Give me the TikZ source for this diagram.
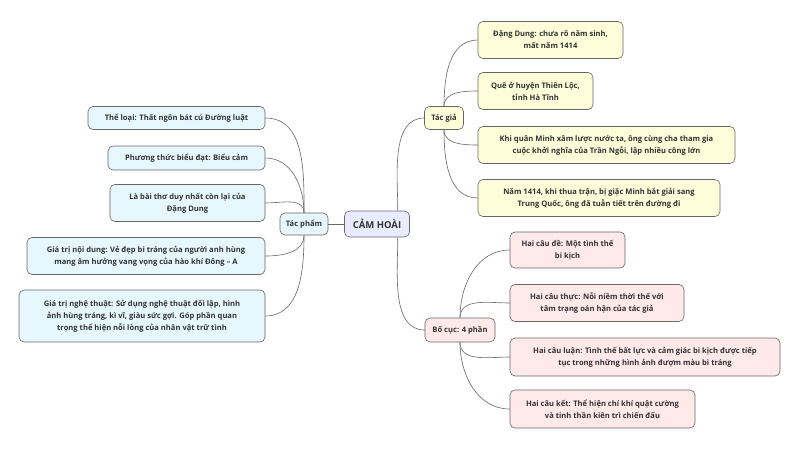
\documentclass[tikz,border=0pt]{standalone}
\usepackage{fontspec}
\setmainfont{Open Sans}
\begin{document}
\begin{tikzpicture}[x=1pt,y=-1pt,
  box/.style={draw=black!60,line width=0.6pt,rounded corners=5pt,align=center,inner sep=0pt,font=\fontsize{7.6}{12}\selectfont\bfseries,text=black!80},
  cy/.style={box,fill=cyan!10!white},
  ye/.style={box,fill=yellow!15!white},
  pk/.style={box,fill=pink!35!white},
  link/.style={draw=black!60,line width=0.6pt}]
\useasboundingbox (0,0) rectangle (800,450);
\fill[white] (0,0) rectangle (800,450);
\newcommand\bx[7]{\node[#1,minimum width=#4pt,minimum height=#5pt] (#2) at (#3) {#6};}
% center
\node[box,fill=blue!8!white,minimum width=65pt,minimum height=26pt,font=\fontsize{9.5}{12}\selectfont\bfseries] (c) at (377,224) {CẢM HOÀI};
\node[cy,minimum width=48pt,minimum height=22pt] (tp) at (304,224) {Tác phẩm};
\node[ye,minimum width=39pt,minimum height=23pt] (tg) at (444,118) {Tác giả};
\node[pk,minimum width=70pt,minimum height=24pt] (bc) at (460,330) {Bố cục: 4 phần};
% left
\node[cy,minimum width=177pt,minimum height=23pt] (l1) at (176.5,118) {Thể loại: Thất ngôn bát cú Đường luật};
\node[cy,minimum width=157pt,minimum height=24pt] (l2) at (186.5,158) {Phương thức biểu đạt: Biểu cảm};
\node[cy,minimum width=155pt,minimum height=37pt] (l3) at (187.5,203) {Là bài thơ duy nhất còn lại của\\Đặng Dung};
\node[cy,minimum width=238pt,minimum height=37pt] (l4) at (146,256) {Giá trị nội dung: Vẻ đẹp bi tráng của người anh hùng\\mang âm hưởng vang vọng của hào khí Đông – A};
\node[cy,minimum width=246pt,minimum height=52pt] (l5) at (142,316) {Giá trị nghệ thuật: Sử dụng nghệ thuật đối lập, hình\\ảnh hùng tráng, kì vĩ, giàu sức gợi. Góp phần quan\\trọng thể hiện nỗi lòng của nhân vật trữ tình};
% right top
\node[ye,minimum width=145pt,minimum height=37pt] (r1) at (550.5,40) {Đặng Dung: chưa rõ năm sinh,\\mất năm 1414};
\node[ye,minimum width=115pt,minimum height=37pt] (r2) at (535.5,91) {Quê ở huyện Thiên Lộc,\\tỉnh Hà Tĩnh};
\node[ye,minimum width=257pt,minimum height=37pt] (r3) at (606.5,145) {Khi quân Minh xâm lược nước ta, ông cùng cha tham gia\\cuộc khởi nghĩa của Trần Ngỗi, lập nhiều công lớn};
\node[ye,minimum width=242pt,minimum height=37pt] (r4) at (599,198) {Năm 1414, khi thua trận, bị giặc Minh bắt giải sang\\Trung Quốc, ông đã tuẫn tiết trên đường đi};
% right bottom
\node[pk,minimum width=115pt,minimum height=36pt] (b1) at (567.5,250) {Hai câu đề: Một tình thế\\bi kịch};
\node[pk,minimum width=174pt,minimum height=37pt] (b2) at (597,303) {Hai câu thực: Nỗi niềm thời thế với\\tâm trạng oán hận của tác giả};
\node[pk,minimum width=270pt,minimum height=38pt] (b3) at (645,357) {Hai câu luận: Tình thế bất lực và cảm giác bi kịch được tiếp\\tục trong những hình ảnh đượm màu bi tráng};
\node[pk,minimum width=185pt,minimum height=38pt] (b4) at (602.5,409) {Hai câu kết: Thể hiện chí khí quật cường\\và tinh thần kiên trì chiến đấu};
% links
\draw[link] (c.west) -- (tp.east);
\draw[link] ([xshift=-12pt]c.north east) to[out=90,in=180,looseness=0.9] (tg.west);
\draw[link] ([xshift=-12pt]c.south east) to[out=270,in=180,looseness=0.9] (bc.west);
\foreach \n in {l1,l2,l3} \draw[link] (tp.north) to[out=90,in=0] (\n.east);
\foreach \n in {l4,l5} \draw[link] (tp.south) to[out=270,in=0] (\n.east);
\foreach \n in {r1,r2} \draw[link] (tg.north) to[out=90,in=180] (\n.west);
\foreach \n in {r3,r4} \draw[link] (tg.south) to[out=270,in=180] (\n.west);
\foreach \n in {b1,b2} \draw[link] (bc.north) to[out=90,in=180] (\n.west);
\foreach \n in {b3,b4} \draw[link] (bc.south) to[out=270,in=180] (\n.west);
\end{tikzpicture}
\end{document}
